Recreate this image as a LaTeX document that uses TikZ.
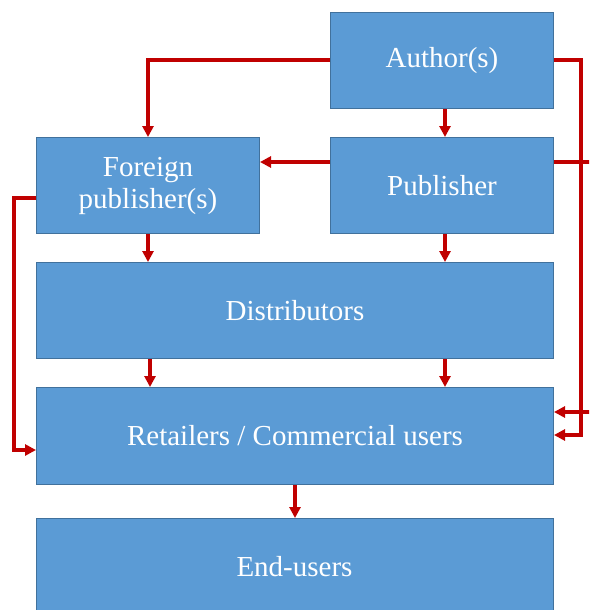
\documentclass[tikz,border=0pt]{standalone}
\usepackage{fontspec}
\setmainfont{Liberation Serif}
\usetikzlibrary{arrows.meta}
\definecolor{boxfill}{HTML}{5B9BD5}
\definecolor{boxline}{HTML}{41719C}
\definecolor{arr}{HTML}{C00000}
\begin{document}
\begin{tikzpicture}[x=1pt,y=-1pt,
  blk/.style={draw=boxline,line width=1pt,fill=boxfill,text=white,inner sep=0pt,
    font=\fontsize{29}{32}\selectfont,align=center,anchor=north west},
  conn/.style={draw=arr,line width=3.2pt,-{Triangle[length=11pt,width=11pt]}}]
\clip (0,0) rectangle (589,610);
\fill[white] (0,0) rectangle (589,610);
\node[blk,minimum width=223pt,minimum height=96pt] (author) at (330,12) {Author(s)};
\node[blk,minimum width=223pt,minimum height=96pt] (pub) at (330,137) {Publisher};
\node[blk,minimum width=223pt,minimum height=96pt] (foreign) at (36,137) {Foreign\\publisher(s)};
\node[blk,minimum width=517pt,minimum height=96pt] (dist) at (36,262) {Distributors};
\node[blk,minimum width=517pt,minimum height=97pt] (ret) at (36,387) {Retailers / Commercial users};
\node[blk,minimum width=517pt,minimum height=130pt] (end) at (36,518) {};
\node[text=white,font=\fontsize{29}{32}\selectfont] (endtxt) at (294.5,567) {End-users};
% author connections
\draw[conn] (author.west |- 0,60) -| (foreign.north -| 148,0);
\draw[conn] (author.south -| 445,0) -- (pub.north -| 445,0);
\coordinate (ar) at (581,60);
\draw[conn] (author.east |- 0,60) -- (ar) |- (ret.east |- 0,435);
% publisher connections
\draw[conn] (pub.west |- 0,162) -- (foreign.east |- 0,162);
\coordinate (pr1) at (600,162);
\coordinate (pr2) at (600,412);
\draw[conn] (pub.east |- 0,162) -- (pr1) -- (pr2) -- (ret.east |- 0,412);
\draw[conn] (pub.south -| 445,0) -- (dist.north -| 445,0);
% foreign connections
\coordinate (fl) at (14,198);
\draw[conn] (foreign.west |- 0,198) -- (fl) |- (ret.west |- 0,450);
\draw[conn] (foreign.south -| 148,0) -- (dist.north -| 148,0);
% distributors
\draw[conn] (dist.south -| 150,0) -- (ret.north -| 150,0);
\draw[conn] (dist.south -| 445,0) -- (ret.north -| 445,0);
% retailers
\draw[conn] (ret.south -| 295,0) -- (end.north -| 295,0);
\end{tikzpicture}
\end{document}
